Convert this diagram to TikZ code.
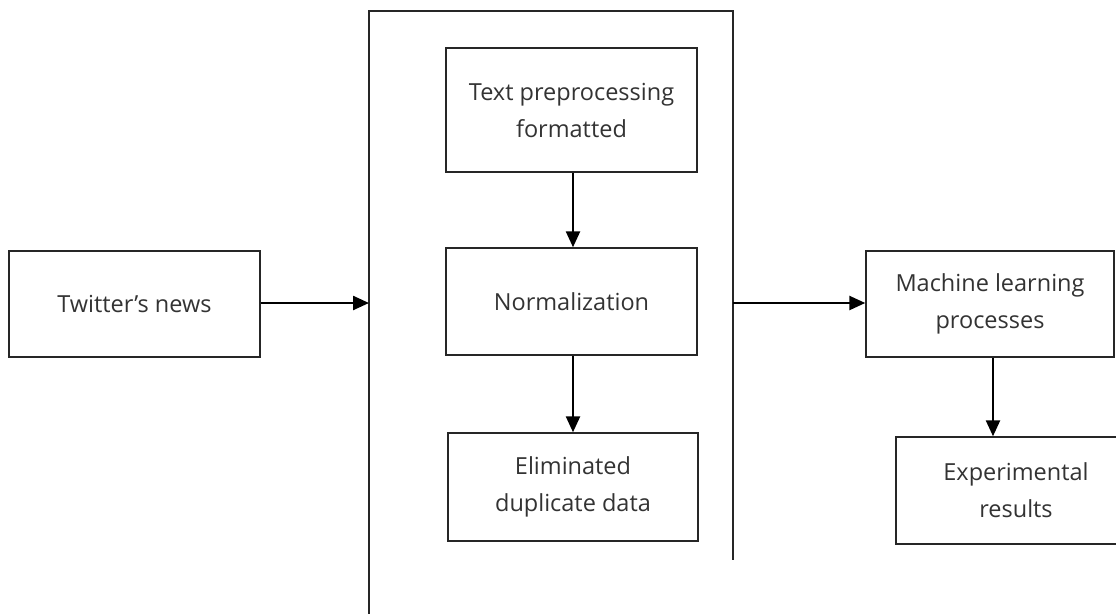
\documentclass[tikz,border=0pt]{standalone}
\usepackage{fontspec}
\setmainfont{Open Sans}
\usetikzlibrary{arrows.meta}
\tikzset{
  stage/.style={draw=black!85, line width=1.4pt, rectangle, align=center, inner sep=0pt,
    font=\fontsize{23.5}{37}\selectfont, text=black!80},
  flow/.style={line width=2.4pt, -{Triangle[length=16pt,width=14pt]}},
}
\begin{document}
\begin{tikzpicture}[x=1pt,y=-1pt]
\useasboundingbox (0,0) rectangle (1116,613);
\begin{scope}
\clip (0,0) rectangle (1116,613);
% preprocessing container, open at the bottom
\draw[draw=black!85, line width=1.4pt] (369,620) -- (369,11) -- (733,11) -- (733,560);
\coordinate (cl) at (369,303);
\coordinate (cr) at (733,303);
% stage boxes
\node[stage, minimum width=251pt, minimum height=106pt] (tw) at (134.5,304) {Twitter’s news};
\node[stage, minimum width=251pt, minimum height=124pt] (tp) at (571.5,110) {Text preprocessing\\formatted};
\node[stage, minimum width=251pt, minimum height=107pt] (nm) at (571.5,301.5) {Normalization};
\node[stage, minimum width=250pt, minimum height=108pt] (el) at (573,487) {Eliminated\\duplicate data};
\node[stage, minimum width=248pt, minimum height=106pt] (ml) at (990,304) {Machine learning\\processes};
\node[stage, minimum width=240pt, minimum height=107pt] (ex) at (1016,490.5) {Experimental\\results};
\end{scope}
% connectors
\draw[flow] (tw.east |- cl) -- (cl);
\draw[flow] (tp.south -| 573,0) -- (nm.north -| 573,0);
\draw[flow] (nm.south -| 573,0) -- (el.north -| 573,0);
\draw[flow] (cr) -- (ml.west |- cr);
\draw[flow] (ml.south -| 993,0) -- (ex.north -| 993,0);
\end{tikzpicture}
\end{document}
